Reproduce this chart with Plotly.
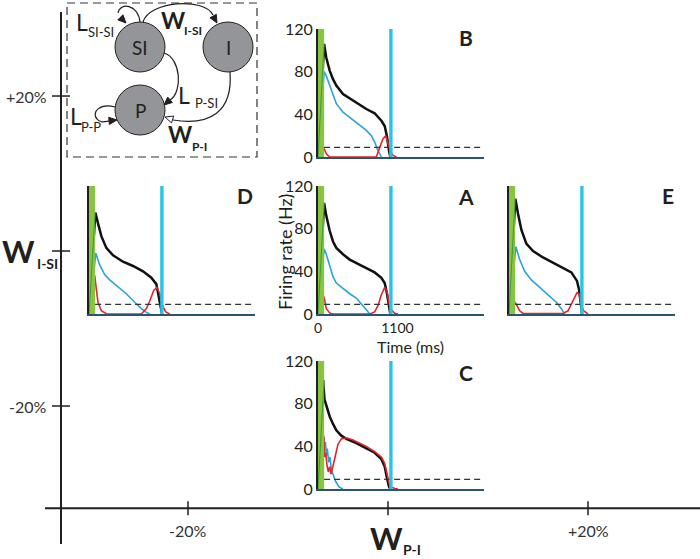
import math
import plotly.graph_objects as go

# ---------------- data ----------------
stim_window = [0, 85]          # ms, stimulus period (green bar)
reset_time = 1010              # ms, cyan line
threshold_rate = 9             # Hz, dashed line
t_end = 2300                   # ms, end of simulation
rate_ticks = [0, 40, 80, 120]
rate_tick_labels = ['0', '40', '80', '120']
time_ticks = [0, 1100]
time_tick_labels = ['0', '1100']

# outer parameter axes (percent change)
pct_ticks = [-20, 0, 20]
pct_labels = ['-20%', '', '+20%']

# Panel A (control)
A_black_t = [0, 85, 115, 162, 208, 254, 346, 439, 554, 670, 785, 878, 924, 956, 984, 1002]
A_black_r = [0, 104, 92, 78, 68, 62, 56, 51, 47, 43, 39, 34, 29, 19, 7, 0]
A_blue_t = [0, 85, 115, 162, 208, 254, 346, 439, 531, 600, 670, 716]
A_blue_r = [0, 61, 56, 45, 35, 29, 24, 19, 15, 10, 4, 0]
A_red_t = [0, 75, 90, 115, 162, 208, 716, 785, 832, 878, 924, 956, 984, 1016, 1063, 1109]
A_red_r = [0, 17, 14, 5, 1, 0, 0, 2, 8, 18, 25, 21, 10, 4, 0.6, 0]

# Panel B (+20% W_I-SI)
B_black_t = [0, 85, 115, 162, 208, 254, 346, 439, 554, 670, 785, 878, 924, 956, 984, 1002]
B_black_r = [0, 106, 93, 81, 73, 67, 59, 55, 50, 45, 41, 34, 29, 19, 6, 0]
B_blue_t = [0, 85, 115, 162, 208, 254, 346, 439, 554, 670, 739, 785, 832, 878]
B_blue_r = [0, 80, 76, 67, 58, 50, 42, 37, 31, 25, 20, 14, 6, 0]
B_red_t = [0, 75, 90, 115, 162, 808, 855, 900, 938, 970, 1002, 1040, 1086]
B_red_r = [0, 9, 7, 3, 0, 0, 9, 17, 20, 14, 6, 1.5, 0]

# Panel C (-20% W_I-SI)
C_black_t = [0, 70, 90, 115, 162, 208, 254, 323, 393, 531, 670, 785, 878, 924, 956, 984, 1002]
C_black_r = [0, 102, 84, 78, 68, 61, 55, 50, 47, 43, 38, 34, 28, 21, 10, 2, 0]
C_blue_t = [0, 85, 95, 104, 115, 129, 148, 166, 185, 208, 245, 291, 346]
C_blue_r = [0, 48, 38, 44, 31, 38, 25, 30, 18, 13, 7, 2, 0]
C_red_t = [0, 80, 92, 106, 125, 143, 162, 180, 199, 217, 245, 277, 323, 393, 485, 578,
           670, 785, 878, 924, 956, 984, 1016, 1063, 1109]
C_red_r = [0, 50, 30, 34, 22, 16, 21, 14, 19, 25, 34, 42, 47, 48, 46, 43,
           40, 35, 30, 24, 13, 6, 2, 0.5, 0]

# Panel D (-20% W_P-I)
D_black_t = [0, 88, 125, 171, 240, 333, 471, 610, 748, 864, 933, 966, 993, 1012]
D_black_r = [0, 95, 85, 73, 62, 55, 49, 45, 40, 34, 28, 17, 5, 0]
D_blue_t = [0, 95, 148, 217, 286, 402, 517, 633, 725, 795, 841]
D_blue_r = [0, 57, 46, 37, 32, 25, 19, 11, 5, 1.5, 0]
D_red_t = [0, 80, 102, 125, 171, 240, 725, 795, 841, 896, 942, 980, 1016, 1063, 1118]
D_red_r = [0, 36, 23, 11, 3, 0.3, 0, 5, 12, 22, 25, 19, 8, 2, 0]

# Panel E (+20% W_P-I)
E_black_t = [0, 88, 125, 171, 240, 333, 471, 610, 748, 864, 942, 970, 993, 1012]
E_black_r = [0, 108, 94, 79, 66, 59, 53, 48, 43, 39, 31, 23, 11, 0]
E_blue_t = [0, 95, 148, 217, 310, 425, 564, 656, 725, 771]
E_blue_r = [0, 63, 51, 40, 32, 25, 17, 11, 5, 0]
E_red_t = [0, 80, 102, 148, 194, 748, 818, 887, 942, 970, 1002, 1035, 1095]
E_red_r = [0, 11, 9, 3, 0.5, 0.5, 3, 12, 20, 19, 8, 3, 0]

panel_data = {
    'A': [(A_black_t, A_black_r), (A_blue_t, A_blue_r), (A_red_t, A_red_r)],
    'B': [(B_black_t, B_black_r), (B_blue_t, B_blue_r), (B_red_t, B_red_r)],
    'C': [(C_black_t, C_black_r), (C_blue_t, C_blue_r), (C_red_t, C_red_r)],
    'D': [(D_black_t, D_black_r), (D_blue_t, D_blue_r), (D_red_t, D_red_r)],
    'E': [(E_black_t, E_black_r), (E_blue_t, E_blue_r), (E_red_t, E_red_r)],
}

# ---------------- layout / style ----------------
W, H = 700, 559
FONT = 'Lato'
INK = '#231f20'
COL_BLACK = '#111111'
COL_BLUE = '#27a4dd'
COL_RED = '#e3262b'
COL_CYAN = '#2ac3e6'
COL_GREEN = '#86c441'
BASE = '#2b5470'

PW = 166  # panel width in px
# (left px, top px for 120 Hz, bottom px for 0 Hz, letter x, letter y)
panel_pos = {
    'B': (318, 29, 157, 466, 37),
    'A': (318, 186, 314, 466, 196),
    'C': (318, 361, 489, 466, 372),
    'D': (89, 186, 314, 245, 195),
    'E': (509, 186, 314, 668, 195),
}

fig = go.Figure()
layout = dict(
    width=W, height=H, margin=dict(l=0, r=0, t=0, b=0, pad=0), autosize=False,
    paper_bgcolor='white', plot_bgcolor='rgba(0,0,0,0)',
    showlegend=False, font=dict(family=FONT, color=INK),
)
annotations = []
shapes = []

for i, name in enumerate(['A', 'B', 'C', 'D', 'E'], start=1):
    x0, yt, yb, lx, ly = panel_pos[name]
    xa = 'x' if i == 1 else f'x{i}'
    ya = 'y' if i == 1 else f'y{i}'
    xk = 'xaxis' if i == 1 else f'xaxis{i}'
    yk = 'yaxis' if i == 1 else f'yaxis{i}'
    show_y = name in ('A', 'B', 'C')
    show_x = name == 'A'
    layout[xk] = dict(domain=[x0 / W, (x0 + PW) / W], range=[0, t_end], anchor=ya,
                      showline=True, linecolor=BASE, linewidth=2, showgrid=False,
                      zeroline=False, ticks='', layer='above traces', automargin=False,
                      tickvals=time_ticks if show_x else [], ticktext=time_tick_labels,
                      tickfont=dict(size=14, family=FONT, color=INK), fixedrange=True)
    layout[yk] = dict(domain=[1 - yb / H, 1 - yt / H], range=[0, 120], anchor=xa,
                      showline=True, linecolor=INK, linewidth=2, showgrid=False,
                      zeroline=False, ticks='', layer='above traces', automargin=False,
                      tickvals=rate_ticks if show_y else [], ticktext=rate_tick_labels,
                      tickfont=dict(size=16, family=FONT, color=INK), fixedrange=True)
    (bt, br), (ut, ur), (rt, rr) = panel_data[name]
    fig.add_trace(go.Scatter(x=bt, y=br, mode='lines', line=dict(color=COL_BLACK, width=2.5),
                             xaxis=xa, yaxis=ya))
    fig.add_trace(go.Scatter(x=ut, y=ur, mode='lines', line=dict(color=COL_BLUE, width=1.6),
                             xaxis=xa, yaxis=ya))
    fig.add_trace(go.Scatter(x=rt, y=rr, mode='lines', line=dict(color=COL_RED, width=1.6),
                             xaxis=xa, yaxis=ya))
    # stimulus bar (drawn over the rising phase)
    fig.add_trace(go.Scatter(
        x=[stim_window[0], stim_window[1], stim_window[1], stim_window[0], stim_window[0]],
        y=[0, 0, rate_ticks[-1], rate_ticks[-1], 0], fill='toself', fillcolor=COL_GREEN,
        line=dict(width=0), mode='lines', xaxis=xa, yaxis=ya, hoverinfo='skip'))
    fig.add_trace(go.Scatter(x=stim_window, y=[0, max(br)], mode='lines',
                             line=dict(color='#3f9a3a', width=1), xaxis=xa, yaxis=ya))
    fig.add_trace(go.Scatter(x=[stim_window[1], t_end * 0.99], y=[threshold_rate] * 2,
                             mode='lines', line=dict(color='#333333', width=1.1, dash='6px,4px'),
                             xaxis=xa, yaxis=ya))
    fig.add_trace(go.Scatter(x=[reset_time, reset_time], y=[0, rate_ticks[-1]], mode='lines',
                             line=dict(color=COL_CYAN, width=3.4), xaxis=xa, yaxis=ya))
    annotations.append(dict(x=lx, y=ly, xref='x7', yref='y7', text=f'<b>{name}</b>',
                            showarrow=False, font=dict(size=21, family=FONT, color=INK)))

# axis titles of panel A
annotations.append(dict(x=285, y=252, xref='x7', yref='y7', text='Firing rate (Hz)',
                        textangle=-90, showarrow=False, font=dict(size=18, family=FONT, color=INK)))
annotations.append(dict(x=410, y=346, xref='x7', yref='y7', text='Time (ms)',
                        showarrow=False, font=dict(size=16, family=FONT, color=INK)))

# ---------------- outer parameter axes (percent coordinates) ----------------
layout['xaxis6'] = dict(domain=[0, 1], range=[-38.8, 31.2], visible=False, fixedrange=True, anchor='y6')
layout['yaxis6'] = dict(domain=[0, 1], range=[-39.74, 32.39], visible=False, fixedrange=True, anchor='x6')
# x7/y7: pixel coordinates for the schematic
layout['xaxis7'] = dict(domain=[0, 1], range=[0, W], visible=False, fixedrange=True, anchor='y7')
layout['yaxis7'] = dict(domain=[0, 1], range=[H, 0], visible=False, fixedrange=True, anchor='x7')

ox, oy = -32.7, -33.2   # where the two outer axes sit
fig.add_trace(go.Scatter(x=[ox, ox], y=[30.84, -37.8], mode='lines',
                         line=dict(color=INK, width=2), xaxis='x6', yaxis='y6'))
fig.add_trace(go.Scatter(x=[-34.3, 31.2], y=[oy, oy], mode='lines',
                         line=dict(color=INK, width=2), xaxis='x6', yaxis='y6'))
for v, lab in zip(pct_ticks, pct_labels):
    fig.add_trace(go.Scatter(x=[ox - 0.9, ox + 0.9], y=[v, v], mode='lines',
                             line=dict(color=INK, width=1.5), xaxis='x6', yaxis='y6'))
    fig.add_trace(go.Scatter(x=[v, v], y=[oy - 0.9, oy + 0.9], mode='lines',
                             line=dict(color=INK, width=1.5), xaxis='x6', yaxis='y6'))
    if lab:
        annotations.append(dict(x=ox - 1.2, y=v, xref='x6', yref='y6', text=lab, xanchor='right',
                                showarrow=False, font=dict(size=16, family=FONT, color='#333')))
        annotations.append(dict(x=v, y=oy - 2.8, xref='x6', yref='y6', text=lab,
                                showarrow=False, font=dict(size=16, family=FONT, color='#333')))

# outer axis titles
annotations.append(dict(x=18, y=251, xref='x7', yref='y7', text='<b>W</b>', showarrow=False,
                        font=dict(size=31, family=FONT, color=INK)))
annotations.append(dict(x=47, y=263, xref='x7', yref='y7', text='<b>I-SI</b>', showarrow=False,
                        font=dict(size=14, family=FONT, color=INK)))
annotations.append(dict(x=386, y=538, xref='x7', yref='y7', text='<b>W</b>', showarrow=False,
                        font=dict(size=31, family=FONT, color=INK)))
annotations.append(dict(x=412, y=549, xref='x7', yref='y7', text='<b>P-I</b>', showarrow=False,
                        font=dict(size=14, family=FONT, color=INK)))

# ---------------- network schematic (pixel coordinates) ----------------
def shp(**kw):
    d = dict(xref='x7', yref='y7', layer='above')
    d.update(kw)
    shapes.append(d)

def arrowhead(tip, frm, L=8.0, hw=3.6, filled=True):
    dx, dy = tip[0] - frm[0], tip[1] - frm[1]
    n = math.hypot(dx, dy)
    ux, uy = dx / n, dy / n
    bx, by = tip[0] - L * ux, tip[1] - L * uy
    px, py = -uy, ux
    p = (f"M {tip[0]:.1f},{tip[1]:.1f} L {bx + hw * px:.1f},{by + hw * py:.1f} "
         f"L {bx - hw * px:.1f},{by - hw * py:.1f} Z")
    shp(type='path', path=p, fillcolor=INK if filled else 'white',
        line=dict(color=INK, width=1))

shp(type='rect', x0=67, x1=257, y0=3, y1=157, line=dict(color='#333', width=1.2, dash='8px,5px'))

nodes = {'SI': (140, 47), 'I': (228, 47), 'P': (140, 110)}
R = 25
for lab, (cx, cy) in nodes.items():
    shp(type='circle', x0=cx - R, x1=cx + R, y0=cy - R, y1=cy + R,
        fillcolor='#939598', line=dict(color=INK, width=1))
    annotations.append(dict(x=cx, y=cy, xref='x7', yref='y7', text=lab, showarrow=False,
                            font=dict(size=19, family=FONT, color=INK)))

# connections
shp(type='path', path='M 140,22 C 138,4 120,2 118,13', line=dict(color=INK, width=1.2))
arrowhead((126, 23), (118, 15))
shp(type='path', path='M 143,22 C 149,1 204,-3 213,15', line=dict(color=INK, width=1.2))
arrowhead((217, 23), (212, 14))
shp(type='path', path='M 164,53 C 181,58 183,92 170,100', line=dict(color=INK, width=1.2))
arrowhead((164, 105), (171, 99))
shp(type='path', path='M 230,72 C 233,112 210,126 173,120', line=dict(color=INK, width=1.2))
arrowhead((165, 117), (174, 120), filled=False)
shp(type='path', path='M 115,107 C 100,103 91,112 97,119 C 100,123 104,122 109,121',
    line=dict(color=INK, width=1.2))
arrowhead((117, 120), (108, 121))

def lbl(x, y, text, size, bold=False):
    t = f'<b>{text}</b>' if bold else text
    annotations.append(dict(x=x, y=y, xref='x7', yref='y7', text=t, showarrow=False,
                            font=dict(size=size, family=FONT, color=INK)))

lbl(82, 22, 'L', 23); lbl(101, 32, 'SI-SI', 13)
lbl(173, 20, 'W', 23, True); lbl(193, 30, 'I-SI', 12, True)
lbl(184, 95, 'L', 23); lbl(206, 103, 'P-SI', 13)
lbl(76, 116, 'L', 23); lbl(91, 127, 'P-P', 13)
lbl(180, 134, 'W', 23, True); lbl(199, 146, 'P-I', 12, True)

layout['annotations'] = annotations
layout['shapes'] = shapes
fig.update_layout(**layout)
fig.write_html(
    'out.html',
    config={'displayModeBar': False, 'responsive': False},
    post_script=("document.documentElement.style.margin='0';"
                 "document.body.style.margin='0';document.body.style.padding='0';"
                 "document.documentElement.style.overflow='hidden';"
                 "document.body.style.overflow='hidden';"))
